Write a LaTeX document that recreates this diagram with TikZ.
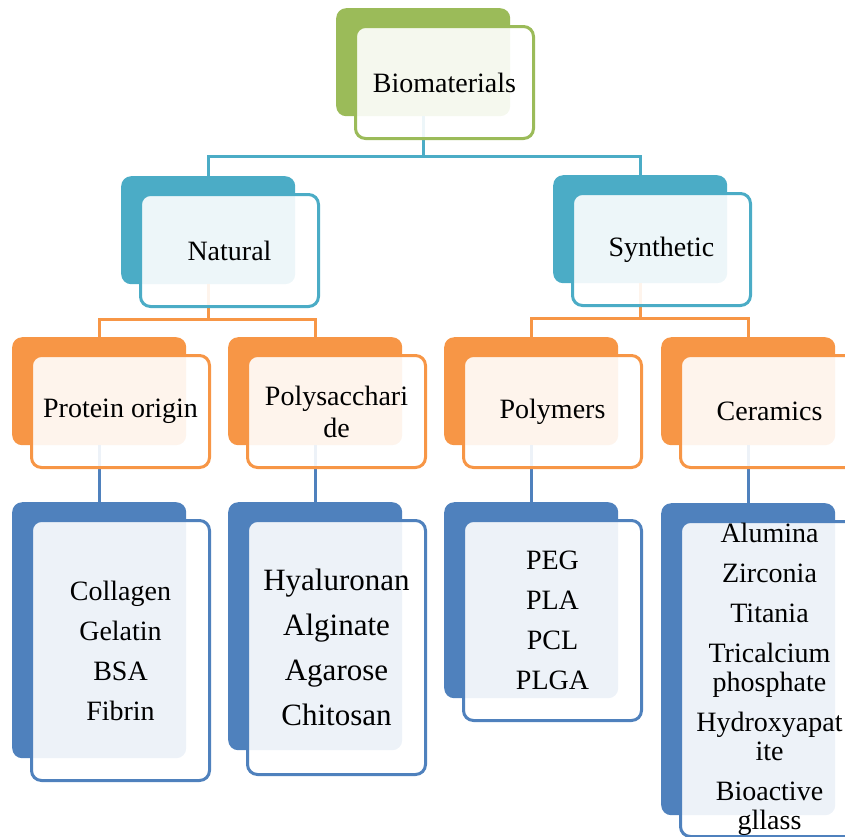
\documentclass[tikz,border=0pt]{standalone}
\usepackage{fontspec}
\setmainfont{Liberation Serif}
\usetikzlibrary{positioning}
\definecolor{biogreen}{HTML}{9BBB59}
\definecolor{bioteal}{HTML}{4BACC6}
\definecolor{bioorange}{HTML}{F79646}
\definecolor{bioblue}{HTML}{4F81BD}

\begin{document}
\begin{tikzpicture}[x=1pt, y=-1pt,
			backbox/.style={rectangle, rounded corners=10pt, anchor=north west, inner sep=0pt, minimum width=174pt, minimum height=108pt},
			frontbox/.style={rectangle, rounded corners=10pt, anchor=north west, draw, line width=3pt, fill=white, fill opacity=0.9, text opacity=1, inner sep=0pt, minimum width=178pt, minimum height=112pt, align=center, font=\fontsize{28}{32}\selectfont},
			listbox/.style={frontbox, font=\fontsize{28}{40}\selectfont},
			conn/.style={line width=3pt}
		]
		\useasboundingbox (0,0) rectangle (845,836);

		% back plates
		\node[backbox, fill=biogreen] (bio-b) at (336,8) {};
		\node[backbox, fill=bioteal] (nat-b) at (121,176) {};
		\node[backbox, fill=bioteal] (syn-b) at (553,175) {};
		\node[backbox, fill=bioorange] (prot-b) at (12,337) {};
		\node[backbox, fill=bioorange] (sacc-b) at (228,337) {};
		\node[backbox, fill=bioorange] (poly-b) at (444,337) {};
		\node[backbox, fill=bioorange] (cer-b) at (661,337) {};
		\node[backbox, fill=bioblue, minimum height=256pt] (prot-lb) at (12,502) {};
		\node[backbox, fill=bioblue, minimum height=248pt] (sacc-lb) at (228,502) {};
		\node[backbox, fill=bioblue, minimum height=196pt] (poly-lb) at (444,502) {};
		\node[backbox, fill=bioblue, minimum height=312pt] (cer-lb) at (661,503) {};

		\draw[conn, bioteal] (bio-b.south) -- ++(0,40) -| (nat-b.north);
		\draw[conn, bioteal] (bio-b.south) -- ++(0,40) -| (syn-b.north);
		\draw[conn, bioorange] (nat-b.south) -- ++(0,35) -| (prot-b.north);
		\draw[conn, bioorange] (nat-b.south) -- ++(0,35) -| (sacc-b.north);
		\draw[conn, bioorange] (syn-b.south) -- ++(0,35) -| (poly-b.north);
		\draw[conn, bioorange] (syn-b.south) -- ++(0,35) -| (cer-b.north);
		\draw[conn, bioblue] (prot-b.south) -- (prot-lb.north);
		\draw[conn, bioblue] (sacc-b.south) -- (sacc-lb.north);
		\draw[conn, bioblue] (poly-b.south) -- (poly-lb.north);
		\draw[conn, bioblue] (cer-b.south) -- (cer-lb.north);

		% front boxes
		\node[frontbox, draw=biogreen] (bio) at ([shift={(18,17)}]bio-b.north west) {Biomaterials};
		\node[frontbox, draw=bioteal] (nat) at ([shift={(18,17)}]nat-b.north west) {Natural};
		\node[frontbox, draw=bioteal] (syn) at ([shift={(18,17)}]syn-b.north west) {Synthetic};
		\node[frontbox, draw=bioorange] (prot) at ([shift={(18,17)}]prot-b.north west) {Protein origin};
		\node[frontbox, draw=bioorange] (sacc) at ([shift={(18,17)}]sacc-b.north west) {Polysacchari\\de};
		\node[frontbox, draw=bioorange] (poly) at ([shift={(18,17)}]poly-b.north west) {Polymers};
		\node[frontbox, draw=bioorange] (cer) at ([shift={(18,17)}]cer-b.north west) {Ceramics};

		\node[listbox, draw=bioblue, minimum height=260pt] (prot-l) at ([shift={(18,17)}]prot-lb.north west) {Collagen\\Gelatin\\BSA\\Fibrin};
		\node[listbox, draw=bioblue, minimum height=254pt, font=\fontsize{31}{45}\selectfont] (sacc-l) at ([shift={(18,17)}]sacc-lb.north west) {Hyaluronan\\Alginate\\Agarose\\Chitosan};
		\node[listbox, draw=bioblue, minimum height=200pt] (poly-l) at ([shift={(18,17)}]poly-lb.north west) {PEG\\PLA\\PCL\\PLGA};
		\node[listbox, draw=bioblue, minimum height=315pt, font=\fontsize{28}{29}\selectfont] (cer-l) at ([shift={(18,17)}]cer-lb.north west) {Alumina\\[11pt]Zirconia\\[11pt]Titania\\[11pt]Tricalcium\\phosphate\\[11pt]Hydroxyapat\\ite\\[11pt]Bioactive\\gllass};
	\end{tikzpicture}
\end{document}
